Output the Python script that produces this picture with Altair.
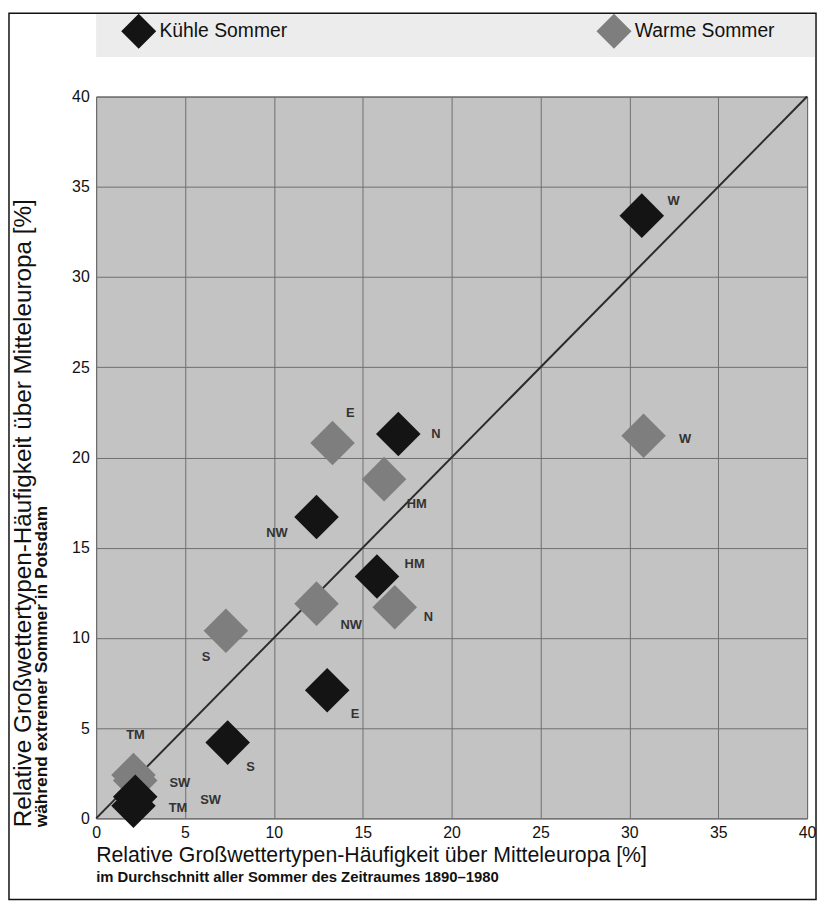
import altair as alt
import pandas as pd

# ---- data ----
groups = ["Kühle Sommer", "Warme Sommer"]

types_cool = ["W", "N", "NW", "HM", "E", "S", "TM", "SW"]
x_cool = [30.7, 17.0, 12.4, 15.8, 13.0, 7.4, 2.1, 2.2]
y_cool = [33.4, 21.3, 16.7, 13.4, 7.1, 4.2, 0.7, 1.2]

types_warm = ["W", "E", "HM", "NW", "N", "S", "TM", "SW"]
x_warm = [30.8, 13.3, 16.2, 12.4, 16.8, 7.3, 2.1, 2.2]
y_warm = [21.2, 20.8, 18.8, 11.9, 11.7, 10.4, 2.4, 2.1]

diag_x = [0, 40]
diag_y = [0, 40]

tick_values = [0, 5, 10, 15, 20, 25, 30, 35, 40]

x_title = "Relative Großwettertypen-Häufigkeit über Mitteleuropa [%]"
x_subtitle = "im Durchschnitt aller Sommer des Zeitraumes 1890–1980"
y_title = "Relative Großwettertypen-Häufigkeit über Mitteleuropa [%]"
y_subtitle = "während extremer Sommer in Potsdam"

# label offsets (pixels, layout only)
dx_cool = [32, 38, -40, 38, 28, 23, 45, 76]
dy_cool = [-15, 0, 16, -13, 24, 25, 2, 3]
dx_warm = [42, 18, 33, 35, 34, -20, 2, 45]
dy_warm = [3, -30, 25, 22, 10, 27, -40, 3]

FONT = "Liberation Sans"
W, H = 718, 729

pts = pd.concat([
    pd.DataFrame({"group": groups[1], "typ": types_warm, "x": x_warm, "y": y_warm,
                  "dx": dx_warm, "dy": dy_warm}),
    pd.DataFrame({"group": groups[0], "typ": types_cool, "x": x_cool, "y": y_cool,
                  "dx": dx_cool, "dy": dy_cool}),
], ignore_index=True)

xscale = alt.Scale(domain=[0, 40], nice=False, zero=False)
yscale = alt.Scale(domain=[0, 40], nice=False, zero=False)

xaxis = alt.Axis(values=tick_values, title=None, grid=True, gridColor="#6e6e6e",
                 gridWidth=1, domain=False, ticks=False, labelFontSize=16,
                 labelFont=FONT, labelColor="#111", labelPadding=6, labelFlush=False)
yaxis = alt.Axis(values=tick_values, title=None, grid=True, gridColor="#6e6e6e",
                 gridWidth=1, domain=False, ticks=False, labelFontSize=16,
                 labelFont=FONT, labelColor="#111", labelPadding=7)

# decoration: outer frame and legend band
frame = alt.Chart(pd.DataFrame({"a": [0]})).mark_rect(
    fill=None, stroke="#111", strokeWidth=1.5
).encode(x=alt.value(-88), x2=alt.value(727), y=alt.value(-84), y2=alt.value(811))

band = alt.Chart(pd.DataFrame({"a": [0]})).mark_rect(
    fill="#ececec", stroke=None
).encode(x=alt.value(0), x2=alt.value(726), y=alt.value(-83), y2=alt.value(-40))

diag = alt.Chart(pd.DataFrame({"x": diag_x, "y": diag_y})).mark_line(
    color="#2b2b2b", strokeWidth=2
).encode(x=alt.X("x:Q", scale=xscale, axis=xaxis), y=alt.Y("y:Q", scale=yscale, axis=yaxis))

points = alt.Chart(pts).mark_point(
    shape="diamond", filled=True, size=2025, opacity=1, strokeWidth=0
).encode(
    x=alt.X("x:Q", scale=xscale, axis=xaxis),
    y=alt.Y("y:Q", scale=yscale, axis=yaxis),
    color=alt.Color("group:N",
                    scale=alt.Scale(domain=groups, range=["#141414", "#7e7e7e"]),
                    legend=alt.Legend(title=None, orient="none", legendX=25, legendY=-84,
                                      direction="horizontal", symbolType="diamond",
                                      symbolSize=1250, symbolStrokeWidth=0,
                                      labelFontSize=19.5, labelFont=FONT, labelColor="#111",
                                      labelOffset=3, columnPadding=312)),
    order=alt.Order("idx:Q"),
).transform_window(idx="row_number()")

labels = alt.Chart(pts).transform_calculate(
    lx=f"datum.x + datum.dx * {40 / W}",
    ly=f"datum.y - datum.dy * {40 / H}",
).mark_text(
    font=FONT, fontSize=13, fontWeight="bold", color="#333"
).encode(
    x=alt.X("lx:Q", scale=xscale, axis=xaxis),
    y=alt.Y("ly:Q", scale=yscale, axis=yaxis),
    text="typ:N",
)

def txt(s, x, y, size, weight="normal", angle=0):
    return alt.Chart(pd.DataFrame({"t": [s]})).mark_text(
        font=FONT, fontSize=size, fontWeight=weight, color="#111",
        align="left", baseline="middle", angle=angle
    ).encode(x=alt.value(x), y=alt.value(y), text="t:N")

xt1 = txt(x_title, 0, 767, 21.5)
xt2 = txt(x_subtitle, 0, 788, 15, "bold")
yt1 = txt(y_title, -73, 738, 24.5, angle=270)
yt2 = txt(y_subtitle, -55, 738, 17.5, "bold", angle=270)

chart = alt.layer(frame, band, diag, points, labels, xt1, xt2, yt1, yt2).properties(
    width=W, height=H,
    autosize=alt.AutoSizeParams(type="none"),
    padding={"left": 89, "top": 85, "right": 10, "bottom": 80},
    background="white",
).configure_view(fill="#c3c3c3", stroke="#555", strokeWidth=1)

chart.save("out.html", embed_options={"renderer": "svg", "actions": False})
